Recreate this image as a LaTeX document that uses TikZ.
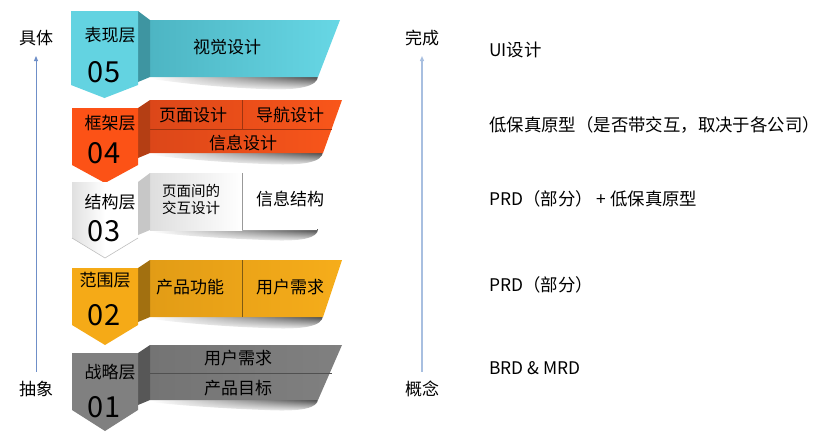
\documentclass[tikz,border=0pt]{standalone}
\usepackage{fontspec}
\setmainfont{Noto Sans CJK SC}
\usetikzlibrary{arrows.meta,fadings}
\definecolor{cyTag}{HTML}{63D3E1}
\definecolor{cyL}{HTML}{4DB5C3}
\definecolor{cyR}{HTML}{67D7E5}
\definecolor{cyFold}{HTML}{3E95A1}
\definecolor{orTag}{HTML}{FC5216}
\definecolor{orL}{HTML}{DC4719}
\definecolor{orR}{HTML}{F9561A}
\definecolor{orFold}{HTML}{B43E14}
\definecolor{orLine}{HTML}{9E3410}
\definecolor{amTag}{HTML}{F5AA17}
\definecolor{amL}{HTML}{E29C16}
\definecolor{amR}{HTML}{F6AD1A}
\definecolor{amFold}{HTML}{A27010}
\definecolor{amLine}{HTML}{7E5A12}
\definecolor{grTag}{HTML}{808080}
\definecolor{grL}{HTML}{747474}
\definecolor{grR}{HTML}{808080}
\definecolor{grFold}{HTML}{575757}
\definecolor{grLine}{HTML}{505050}
\definecolor{arrA}{HTML}{6F8FC8}
\definecolor{arrB}{HTML}{A8BFE0}
\tikzset{
  lbl/.style={font=\fontsize{17}{19}\selectfont, text=black},
  num/.style={font=\fontsize{29}{31}\selectfont, text=black},
  btxt/.style={font=\fontsize{17}{19}\selectfont, text=black},
  stxt/.style={font=\fontsize{14.5}{16}\selectfont, text=black, align=center},
  rtxt/.style={font=\fontsize{17.4}{19}\selectfont, text=black, anchor=west},
  side/.style={font=\fontsize{17}{19}\selectfont, text=black},
  shadowblob/.style={left color=white, right color=black!75, path fading=south},
}
\begin{document}
\begin{tikzpicture}[x=1pt,y=-1pt, every node/.style={inner sep=0pt}]
\useasboundingbox (0,0) rectangle (826,437);

% ---------- layer 05 ----------
\shade[shadowblob] (152,76) -- (318,76) .. controls (318,86) and (300,91) .. (262,89) .. controls (210,87) and (165,81) .. (152,79) -- cycle;
\shade[left color=cyL, right color=cyR] (150,20) -- (340,20) -- (318,77) -- (150,77) -- cycle;
\fill[cyFold] (138,11) -- (150,20) -- (150,77) -- (138,82) -- cycle;
\fill[cyTag] (71,11) -- (138,11) -- (138,85) -- (104.5,98) -- (71,85) -- cycle;
\node[lbl] (l5) at (110,35) {表现层};
\node[num] (n5) at (104,72) {05};
\node[btxt] (b5) at (227,47) {视觉设计};

% ---------- layer 04 ----------
\shade[shadowblob] (152,152) -- (323,152) .. controls (322,162) and (305,166) .. (265,164) .. controls (210,162) and (165,157) .. (152,155) -- cycle;
\shade[left color=orL, right color=orR] (150,100) -- (342,100) -- (323,153) -- (150,153) -- cycle;
\draw[orLine, line width=0.8pt] (150,129) -- (331.6,129);
\draw[orLine, line width=0.8pt] (242,100) -- (242,129);
\fill[orFold] (138,108) -- (150,100) -- (150,153) -- (138,158) -- cycle;
\fill[orTag] (72,108) -- (138,108) -- (138,165) -- (105,183) -- (72,165) -- cycle;
\node[lbl] (l4) at (110,123) {框架层};
\node[num] (n4) at (104,153) {04};
\node[btxt] (b4a) at (193,115) {页面设计};
\node[btxt] (b4b) at (290,115) {导航设计};
\node[btxt] (b4c) at (243,143) {信息设计};

% ---------- layer 03 ----------
\shade[shadowblob] (152,229) -- (318,229) .. controls (318,238) and (302,242) .. (265,240) .. controls (210,238) and (165,234) .. (152,232) -- cycle;
\fill[white] (150,173) -- (320,173) -- (317,230) -- (150,230) -- cycle;
\shade[left color=black!13, right color=white] (150,173) rectangle (242,230);
\draw[black!40, line width=0.8pt] (242,173) -- (242,230);
\fill[black!22] (138,182) -- (150,173) -- (150,230) -- (138,235) -- cycle;
\shade[left color=black!12, right color=white, middle color=white] (72,182) -- (138,182) -- (138,238) -- (105,258) -- (72,238) -- cycle;
\draw[black!25, line width=0.6pt] (72,238) -- (105,258) -- (138,238);
\node[lbl] (l3) at (110,202) {结构层};
\node[num] (n3) at (104,231) {03};
\node[stxt] (b3a) at (191,199) {页面间的\\[1pt]交互设计};
\node[btxt] (b3b) at (290,199) {信息结构};

% ---------- layer 02 ----------
\shade[shadowblob] (152,316) -- (323,316) .. controls (322,326) and (305,330) .. (265,328) .. controls (210,326) and (165,321) .. (152,319) -- cycle;
\shade[left color=amL, right color=amR] (150,260) -- (342,260) -- (323,317) -- (150,317) -- cycle;
\draw[amLine, line width=0.8pt] (242,260) -- (242,317);
\fill[amFold] (138,268) -- (150,260) -- (150,317) -- (138,322) -- cycle;
\fill[amTag] (72,268) -- (138,268) -- (138,325) -- (105,345) -- (72,325) -- cycle;
\node[lbl] (l2) at (105,280) {范围层};
\node[num] (n2) at (104,315) {02};
\node[btxt] (b2a) at (190,287) {产品功能};
\node[btxt] (b2b) at (290,287) {用户需求};

% ---------- layer 01 ----------
\shade[shadowblob] (152,399) -- (318,399) .. controls (318,408) and (302,412) .. (265,410) .. controls (210,408) and (165,404) .. (152,402) -- cycle;
\shade[left color=grL, right color=grR] (150,345) -- (342,345) -- (318,400) -- (150,400) -- cycle;
\draw[grLine, line width=0.8pt] (150,373) -- (331.5,373);
\fill[grFold] (138,353) -- (150,345) -- (150,400) -- (138,405) -- cycle;
\fill[grTag] (72,353) -- (138,353) -- (138,410) -- (105,431) -- (72,410) -- cycle;
\node[lbl] (l1) at (110,372) {战略层};
\node[num] (n1) at (104,407) {01};
\node[btxt] (b1a) at (238,358) {用户需求};
\node[btxt] (b1b) at (238,388) {产品目标};

% ---------- side axes ----------
\node[side] (top1) at (36,38) {具体};
\node[side] (bot1) at (36,389) {抽象};
\draw[arrA, line width=0.9pt, -{Triangle[length=5pt,width=4pt]}] (bot1.north) ++(0,-9) coordinate (s1) (s1) -- (top1.south |- 0,56);
\node[side] (top2) at (422,38) {完成};
\node[side] (bot2) at (422,389) {概念};
\draw[arrB, line width=1.2pt, -{Triangle[length=5pt,width=4pt]}] (bot2.north) ++(0,-9) coordinate (s2) (s2) -- (top2.south |- 0,56);

% ---------- right texts ----------
\node[rtxt] (r5) at (489,50) {UI设计};
\node[rtxt] (r4) at (489,125) {低保真原型（是否带交互，取决于各公司）};
\node[rtxt] (r3) at (489,199) {PRD（部分） + 低保真原型};
\node[rtxt] (r2) at (489,285) {PRD（部分）};
\node[rtxt] (r1) at (489,368) {BRD \& MRD};
\end{tikzpicture}
\end{document}
